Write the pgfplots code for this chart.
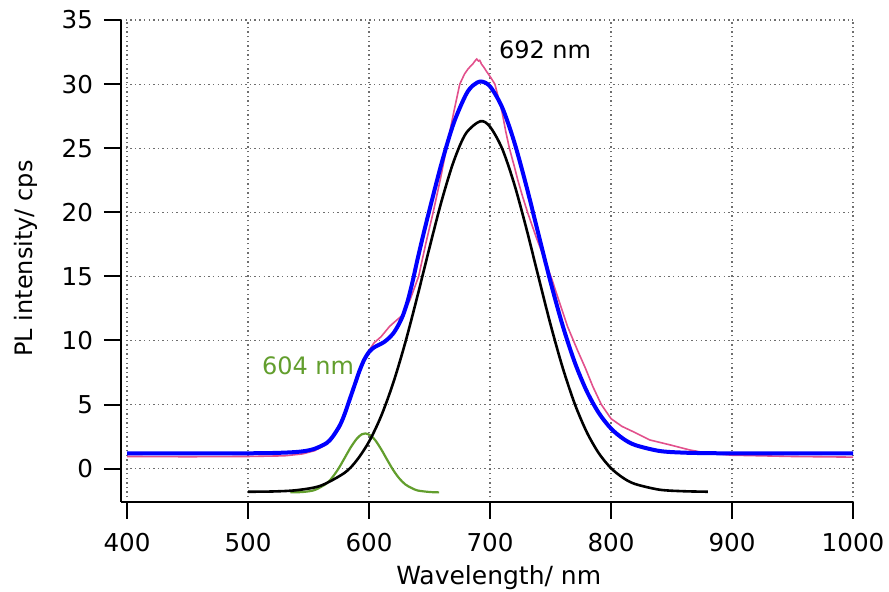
\documentclass[border=0pt]{standalone}
\usepackage{fontspec}
\setmainfont{DejaVu Sans}
\usepackage{pgfplots}
\pgfplotsset{compat=1.18}
\definecolor{pinkc}{RGB}{226,80,140}
\definecolor{greenc}{RGB}{98,158,45}
\definecolor{gridc}{RGB}{110,110,110}
\begin{document}
\begin{tikzpicture}
\path[use as bounding box] (-60.5pt,-45pt) rectangle (384pt,251pt);
\begin{axis}[
  scale only axis,
  width=366pt, height=241pt,
  at={(0,0)}, anchor=south west,
  xmin=395, xmax=1000, ymin=-2.6, ymax=35,
  axis lines=left,
  axis line style={-, line width=1pt, black},
  xtick={400,500,...,1000},
  ytick={0,5,...,35},
  tick align=outside,
  major tick length=8.5pt,
  tick style={line width=1pt, black},
  grid=major,
  major grid style={gridc, line width=0.55pt, dash pattern=on 0.7pt off 1.6pt},
  /pgf/number format/assume math mode=true,
  /pgf/number format/1000 sep={},
  ticklabel style={font=\fontsize{12.3}{14}\selectfont},
  xticklabel style={yshift=-3.5pt},
  yticklabel style={xshift=-2pt},
  xlabel={Wavelength/ nm},
  xlabel style={font=\fontsize{12.5}{14}\selectfont, at={(axis description cs:0.516,-0.172)}, anchor=base},
  ylabel={PL intensity/ cps},
  ylabel style={font=\fontsize{12}{14}\selectfont, at={(axis description cs:-0.13,0.505)}, anchor=center},
  clip=false,
]
% pink measured spectrum
\addplot[pinkc, line width=0.8pt] coordinates {
(400,0.95) (450,0.93) (500,0.95) (530,1.0) (545,1.15) (555,1.4) (565,1.9) (570,2.4)
(576,3.2) (580,4.2) (584,5.3) (588,6.4) (591,7.2) (595,8.2) (598,8.9) (604,9.8) (610,10.3) (617,11.1) (623,11.6)
(628,12.0) (634,13.2) (641,15.0) (647,17.6) (653,20.0) (659,22.6) (664,25.0)
(670,27.8) (675,30.0) (679,30.8) (682,31.2) (684,31.4) (686,31.6) (687.5,31.8)
(689,31.95) (690.5,31.8) (691.5,31.85) (693,31.55) (695,31.3) (697,31.0) (700,30.6)
(704,30.0) (707,28.9) (710,27.8) (713,26.3) (716,25.0) (720,23.6) (723,22.5)
(727,21.2) (731,20.0) (738,18.1) (744,16.6) (751,14.8) (758,12.8) (764,11.1)
(768,10.2) (772,9.3) (779,7.8) (785,6.4) (792,5.0) (800,3.9) (809,3.3) (818,2.9)
(832,2.24) (849,1.85) (865,1.46) (880,1.2) (900,1.05) (950,0.95) (1000,0.9)
};
% green component
\addplot[greenc, line width=1.1pt, smooth] coordinates {
(535,-1.85) (545,-1.82) (555,-1.67) (565,-1.15) (570,-0.64) (575,0.04) (580,0.86)
(585,1.68) (590,2.35) (594,2.68) (597,2.75) (601,2.6) (605,2.24) (610,1.52)
(615,0.69) (620,-0.11) (625,-0.76) (630,-1.23) (635,-1.5) (640,-1.70) (650,-1.82) (658,-1.85)
};
% black component
\addplot[black, line width=1.3pt, smooth] coordinates {
(500,-1.80) (520,-1.78) (540,-1.68) (560,-1.33) (580,-0.31) (590,0.67) (600,2.11)
(610,4.10) (620,6.69) (630,9.85) (640,13.46) (650,17.25) (660,20.89) (670,23.98)
(680,26.14) (692,27.1) (700,26.67) (710,24.97) (720,22.21) (730,18.75) (740,14.97)
(750,11.25) (760,7.89) (770,5.06) (780,2.84) (790,1.19) (800,0.04) (810,-0.72)
(820,-1.20) (840,-1.64) (860,-1.76) (880,-1.80)
};
% blue fit
\addplot[blue, line width=2pt, smooth] coordinates {
(400,1.2) (500,1.2) (530,1.25) (545,1.35) (555,1.55) (565,2.0) (570,2.5) (576,3.4)
(580,4.3) (584,5.4) (588,6.5) (592,7.6) (596,8.5) (600,9.1) (604,9.45) (608,9.65)
(612,9.85) (616,10.15) (620,10.55) (624,11.15) (628,11.95) (632,13.1) (636,14.6)
(640,16.3) (645,18.3) (650,20.2) (660,23.84) (670,26.96) (680,29.16) (686,29.9)
(692.5,30.2) (700,29.82) (710,28.19) (720,25.49) (730,22.06) (740,18.3) (750,14.57)
(760,11.17) (770,8.3) (780,6.03) (790,4.33) (800,3.13) (810,2.34) (820,1.84)
(840,1.38) (860,1.25) (880,1.21) (900,1.2) (1000,1.2)
};
\node[font=\fontsize{12}{14}\selectfont, black] at (axis cs:745.5,32.7) {692 nm};
\node[font=\fontsize{12}{14}\selectfont, text=greenc] at (axis cs:549.6,8.0) {604 nm};
\end{axis}
\end{tikzpicture}
\end{document}
